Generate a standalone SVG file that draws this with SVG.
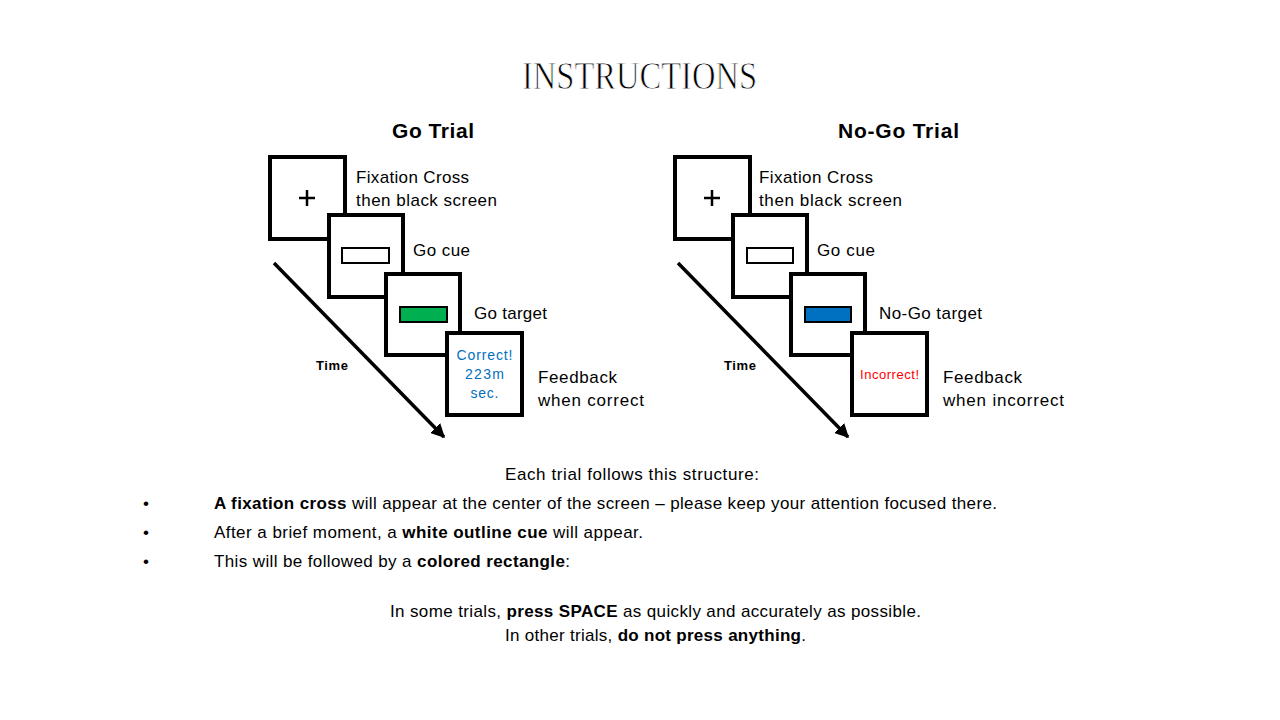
<svg xmlns="http://www.w3.org/2000/svg" width="1280" height="720" viewBox="0 0 1280 720">
<style>
.scr{fill:#fff;stroke:#000;stroke-width:4}
.lbl{font-family:"Liberation Sans",Arial,sans-serif;font-size:17px;fill:#000}
.hd{font-family:"Liberation Sans",Arial,sans-serif;font-size:21px;font-weight:bold;fill:#000;text-anchor:middle}
.time{font-family:"Liberation Sans",Arial,sans-serif;font-size:13px;font-weight:bold;fill:#000}
.body{font-family:"Liberation Sans",Arial,sans-serif;font-size:17px;fill:#000}
.b{font-weight:bold}
.cross{stroke:#000;stroke-width:2.5}
.arrow{stroke:#000;stroke-width:3.5;fill:none}
</style>
<defs>
<marker id="ah" viewBox="0 0 10 10" refX="9" refY="5" markerWidth="4" markerHeight="4" orient="auto" markerUnits="strokeWidth">
<path d="M0,0 L10,5 L0,10 z" fill="#000"/>
</marker>
</defs>
<rect width="1280" height="720" fill="#fff"/>
<text x="639.5" y="89" font-family="'Liberation Serif','Times New Roman',serif" font-size="41" text-anchor="middle" textLength="235" lengthAdjust="spacingAndGlyphs" fill="#000" stroke="#fff" stroke-width="0.9">INSTRUCTIONS</text>

<g id="go-trial">
<text class="hd" x="433" y="138" textLength="82">Go Trial</text>
<g id="go-fixation">
<rect class="scr" x="270" y="157" width="75" height="82"/>
<line class="cross" x1="299" y1="198" x2="315" y2="198"/>
<line class="cross" x1="307" y1="190" x2="307" y2="206"/>
<text class="lbl" x="356" y="183" textLength="113">Fixation Cross</text>
<text class="lbl" x="356" y="206" textLength="141">then black screen</text>
</g>
<g id="go-cue">
<rect class="scr" x="329" y="215" width="74" height="82"/>
<rect x="342" y="248" width="47" height="15" fill="#fff" stroke="#000" stroke-width="2"/>
<text class="lbl" x="413" y="256" textLength="57">Go cue</text>
</g>
<g id="go-target">
<rect class="scr" x="386" y="274" width="74" height="81"/>
<rect x="400" y="307" width="47" height="15" fill="#00B050" stroke="#000" stroke-width="2"/>
<text class="lbl" x="474" y="319" textLength="73">Go target</text>
</g>
<g id="go-feedback">
<rect class="scr" x="447" y="333" width="75" height="82"/>
<g font-family="'Liberation Sans',Arial,sans-serif" font-size="14" fill="#0070C0" text-anchor="middle">
<text x="484.5" y="360" textLength="56">Correct!</text>
<text x="484.5" y="379" textLength="39">223m</text>
<text x="484.5" y="398" textLength="28">sec.</text>
</g>
<text class="lbl" x="538" y="383" textLength="79">Feedback</text>
<text class="lbl" x="538" y="406" textLength="106">when correct</text>
</g>
<text class="time" x="316" y="370" textLength="32">Time</text>
</g>

<g id="nogo-trial">
<text class="hd" x="898.5" y="138" textLength="121">No-Go Trial</text>
<g id="nogo-fixation">
<rect class="scr" x="675" y="157" width="75" height="82"/>
<line class="cross" x1="704" y1="198" x2="720" y2="198"/>
<line class="cross" x1="712" y1="190" x2="712" y2="206"/>
<text class="lbl" x="759" y="183" textLength="114">Fixation Cross</text>
<text class="lbl" x="759" y="206" textLength="143">then black screen</text>
</g>
<g id="nogo-cue">
<rect class="scr" x="733" y="215" width="74" height="82"/>
<rect x="747" y="248" width="46" height="15" fill="#fff" stroke="#000" stroke-width="2"/>
<text class="lbl" x="817" y="256" textLength="58">Go cue</text>
</g>
<g id="nogo-target">
<rect class="scr" x="791" y="274" width="74" height="81"/>
<rect x="805" y="307" width="46" height="15" fill="#0070C0" stroke="#000" stroke-width="2"/>
<text class="lbl" x="879" y="319" textLength="103">No-Go target</text>
</g>
<g id="nogo-feedback">
<rect class="scr" x="852" y="333" width="75" height="82"/>
<text x="889.5" y="379" font-family="'Liberation Sans',Arial,sans-serif" font-size="13" fill="#FF0000" text-anchor="middle" textLength="59">Incorrect!</text>
<text class="lbl" x="943" y="383" textLength="79">Feedback</text>
<text class="lbl" x="943" y="406" textLength="121">when incorrect</text>
</g>
<text class="time" x="724" y="370" textLength="32">Time</text>
</g>

<g id="connectors">
<line class="arrow" x1="274" y1="263" x2="444" y2="437" marker-end="url(#ah)"/>
<line class="arrow" x1="678" y1="263" x2="848" y2="437" marker-end="url(#ah)"/>
</g>

<g id="instructions-text">
<text class="body" x="632" y="480" text-anchor="middle" textLength="254">Each trial follows this structure:</text>
<text class="body" x="143" y="509">•</text>
<text class="body" x="143" y="538">•</text>
<text class="body" x="143" y="567">•</text>
<text class="body" x="214" y="509" textLength="783"><tspan class="b">A fixation cross</tspan> will appear at the center of the screen – please keep your attention focused there.</text>
<text class="body" x="214" y="538" textLength="429">After a brief moment, a <tspan class="b">white outline cue</tspan> will appear.</text>
<text class="body" x="214" y="567" textLength="356">This will be followed by a <tspan class="b">colored rectangle</tspan>:</text>
<text class="body" x="655.5" y="617" text-anchor="middle" textLength="531">In some trials, <tspan class="b">press SPACE</tspan> as quickly and accurately as possible.</text>
<text class="body" x="655.5" y="641" text-anchor="middle" textLength="301">In other trials, <tspan class="b">do not press anything</tspan>.</text>
</g>
</svg>
